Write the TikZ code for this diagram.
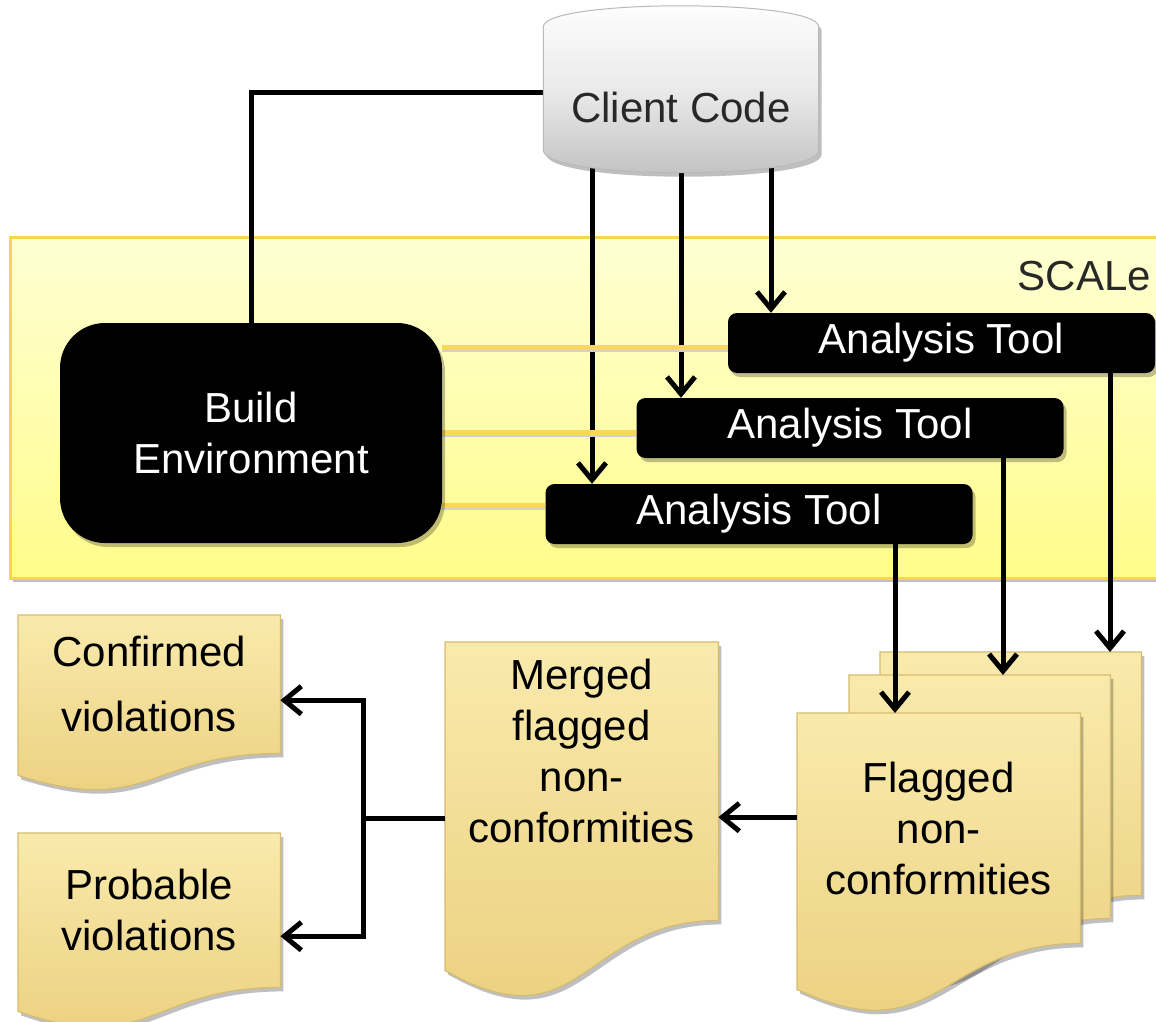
\documentclass[tikz,border=0pt]{standalone}
\usepackage{fontspec}
\setmainfont{Liberation Sans}
\usetikzlibrary{arrows.meta,calc,shadows}
\pgfdeclarelayer{bg}
\pgfdeclarelayer{conn}
\pgfdeclarelayer{shapes}
\pgfsetlayers{bg,conn,shapes,main}
\definecolor{doctop}{RGB}{249,234,172}
\definecolor{docbot}{RGB}{234,206,124}
\definecolor{docedge}{RGB}{214,188,112}
\definecolor{ccbot}{RGB}{192,192,192}
\definecolor{ccmid}{RGB}{234,234,234}
\definecolor{ccedge}{RGB}{185,185,185}
\definecolor{scaletop}{RGB}{255,255,212}
\definecolor{scalebot}{RGB}{255,252,138}
\definecolor{scaleedge}{RGB}{247,214,77}
\definecolor{goldline}{RGB}{250,216,82}
\definecolor{darktext}{RGB}{40,40,40}
\newcommand\bigfont{\fontsize{42}{51}\selectfont}
\newcommand\docshape[3]{%
  \path[docfill] (#1.north west) -- (#1.north east) -- (#1.south east)
    .. controls (#1.south) and ($(#1.south)+(0,#3)$) .. ($(#1.south west)+(0,#2)$) -- cycle;}
\tikzset{
  shadowed/.style={drop shadow={shadow xshift=3pt,shadow yshift=-4pt,opacity=0.25,fill=black}},
  arr/.style={line width=5pt,-{Straight Barb[length=17pt,width=28pt]}},
  plainline/.style={line width=5pt},
  gold/.style={line width=5pt,draw=goldline,
     preaction={draw=black!18,line width=4pt,transform canvas={yshift=-3pt}}},
  tool/.style={fill=black,text=white,rounded corners=9pt,minimum width=427pt,minimum height=60pt,inner sep=0pt,font=\bigfont,shadowed},
  buildbox/.style={fill=black,text=white,rounded corners=45pt,minimum width=382pt,minimum height=220pt,inner sep=0pt,align=center,font=\bigfont,shadowed},
  doc/.style={inner sep=0pt,align=center,font=\bigfont,text=black,anchor=north west},
  docfill/.style={top color=doctop,bottom color=docbot,draw=docedge,line width=1.2pt,shadowed},
  ccfill/.style={top color=white,bottom color=ccbot,middle color=ccmid,draw=ccedge,line width=1pt,shadowed},
  scalebox/.style={top color=scaletop,bottom color=scalebot,draw=scaleedge,line width=3pt,shadowed,minimum width=1160pt,minimum height=341pt,inner sep=0pt},
  txt/.style={font=\bigfont,align=center,inner sep=0pt},
}
\begin{document}
\begin{tikzpicture}[x=1pt,y=-1pt]
\useasboundingbox (0,0) rectangle (1156,1022);
\begin{pgfonlayer}{bg}
  \fill[white] (0,0) rectangle (1156,1022);
  \node[scalebox] (box) at (590,407.5) {};
\end{pgfonlayer}
% nodes
\node[txt,text=darktext,anchor=east] (scale) at (1151,276) {SCALe};
\node[minimum width=275pt,minimum height=123pt,inner sep=0pt,
      label={[txt,text=darktext,yshift=-19pt]center:Client Code}] (cc) at (681,88.5) {};
\node[buildbox] (be) at (251,433) {Build\\Environment};
\node[tool] (t1) at (941.5,343) {Analysis Tool};
\node[tool] (t2) at (850,428) {Analysis Tool};
\node[tool] (t3) at (759,514) {Analysis Tool};
\node[doc,minimum width=261pt,minimum height=243pt] (back) at (880,652) {};
\node[doc,minimum width=261pt,minimum height=243pt] (mid) at (849,675) {};
\node[doc,minimum width=283pt,minimum height=230pt] (fl) at (797,713) {Flagged\\non-\\conformities};
\node[doc,minimum width=273pt,minimum height=278pt,
      label={[txt,yshift=30pt]center:Merged\\flagged\\non-\\conformities}] (mg) at (445,642) {};
\node[doc,minimum width=262pt,minimum height=138pt] (cf) at (18,615) {Confirmed\\[14pt]violations};
\node[doc,minimum width=262pt,minimum height=154pt] (pb) at (18,833) {Probable\\violations};
% shapes
\begin{pgfonlayer}{shapes}
  \path[ccfill] (cc.north west) .. controls +(0,-28) and +(0,-28) .. (cc.north east)
     -- (cc.south east) .. controls +(0,30) and +(0,30) .. (cc.south west) -- cycle;
  \docshape{back}{42}{115}
  \docshape{mid}{42}{115}
  \docshape{fl}{46}{112}
  \docshape{mg}{50}{128}
  \docshape{cf}{22}{64}
  \docshape{pb}{24}{70}
\end{pgfonlayer}
% connectors under shapes
\begin{pgfonlayer}{conn}
  \draw[plainline] ([yshift=-4pt]cc.west) -| (be.north);
  \draw[arr] ([xshift=-89pt]cc.south) -- ([xshift=-89pt]cc.south |- t3.north);
  \draw[arr] (cc.south) -- (cc.south |- t2.north);
  \draw[arr] ([xshift=90pt]cc.south) -- ([xshift=90pt]cc.south |- t1.north);
  \draw[gold] ([yshift=-4pt]t1.west) -- ([yshift=-4pt]t1.west -| be.east);
  \draw[gold] ([yshift=-4pt]t2.west) -- ([yshift=-4pt]t2.west -| be.east);
  \draw[gold] ([yshift=9pt]t3.west) -- ([yshift=9pt]t3.west -| be.east);
\end{pgfonlayer}
% connectors on top
\draw[arr] ([xshift=168.5pt]t1.south) -- ([xshift=168.5pt]t1.south |- back.north);
\draw[arr] ([xshift=153pt]t2.south) -- ([xshift=153pt]t2.south |- mid.north);
\draw[arr] ([xshift=136pt]t3.south) -- ([xshift=136pt]t3.south |- fl.north);
\draw[arr] ([yshift=11pt]fl.west) -- ([yshift=11pt]fl.west -| mg.east);
\coordinate (cfin) at ([yshift=-16pt]cf.east);
\coordinate (pbin) at ([yshift=-26pt]pb.east);
\draw[plainline] ([yshift=-37pt]mg.west) -- ++(-82,0) coordinate (fork);
\draw[plainline,line cap=rect] (fork |- cfin) -- (fork |- pbin);
\draw[arr] (fork |- cfin) -- (cfin);
\draw[arr] (fork |- pbin) -- (pbin);
\end{tikzpicture}
\end{document}
